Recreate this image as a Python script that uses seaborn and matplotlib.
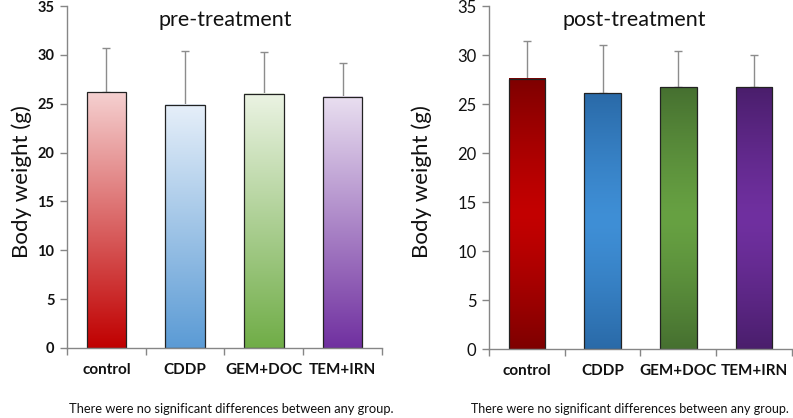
import numpy as np
import pandas as pd
import matplotlib
matplotlib.use("Agg")
import matplotlib.pyplot as plt
import seaborn as sns
from matplotlib.colors import to_rgb

# ---- data ----
groups = ["control", "CDDP", "GEM+DOC", "TEM+IRN"]
pre_mean = [26.2, 24.9, 26.0, 25.7]
pre_sd = [4.5, 5.5, 4.3, 3.5]
post_mean = [27.6, 26.1, 26.7, 26.7]
post_sd = [3.8, 4.9, 3.7, 3.3]
y_ticks = [0, 5, 10, 15, 20, 25, 30, 35]

pre_top = ["#f5d0d0", "#e6eff9", "#ebf3e3", "#e9dff0"]
pre_bottom = ["#c00000", "#5b9bd5", "#70ad47", "#7030a0"]
post_edge = ["#7e0000", "#2a6aa8", "#467030", "#4a1e6c"]
post_mid = ["#c30000", "#3f8fd6", "#67a142", "#7030a0"]

sns.set_theme(style="white")
plt.rcParams["font.family"] = ["Lato", "DejaVu Sans"]

fig = plt.figure(figsize=(7.93, 4.18), dpi=100)
axL = fig.add_axes([0.0845, 0.1675, 0.3972, 0.818])
axR = fig.add_axes([0.6166, 0.165, 0.3821, 0.8206])


def draw(ax, means, sds, width, grad_fn, bold):
    df = pd.DataFrame({"group": groups, "mean": means})
    sns.barplot(data=df, x="group", y="mean", ax=ax, width=width,
                color="white", edgecolor="#222222", linewidth=0.9,
                errorbar=None)
    for i, p in enumerate(ax.patches):
        x0 = p.get_x(); w = p.get_width(); h = p.get_height()
        img = grad_fn(i)
        ax.imshow(img, extent=[x0, x0 + w, 0, h], aspect="auto",
                  origin="upper", zorder=1.5, interpolation="bilinear")
        p.set_facecolor("none")
        p.set_zorder(2)
    ax.errorbar(range(len(groups)), means, yerr=[np.zeros(len(sds)), sds],
                fmt="none", ecolor="#8c8c8c", elinewidth=1.0, capsize=3,
                capthick=1.0, zorder=1.2)
    ax.set_xlim(-0.5, len(groups) - 0.5)
    ax.set_ylim(0, 35)
    ax.set_yticks(y_ticks)
    ax.set_xlabel("")
    ax.set_ylabel("")
    for s in ["top", "right"]:
        ax.spines[s].set_visible(False)
    for s in ["left", "bottom"]:
        ax.spines[s].set_color("#868686")
        ax.spines[s].set_linewidth(1.0)
    ax.set_xticks(np.arange(-0.5, len(groups)), minor=True)
    ax.tick_params(axis="x", which="major", length=0, pad=11)
    ax.tick_params(axis="x", which="minor", length=5, width=1.0,
                   color="#868686", direction="out", bottom=True)
    ax.tick_params(axis="y", length=5, width=1.0, color="#868686",
                   direction="out", left=True, pad=4)
    ax.set_xticks(range(len(groups)))
    ax.set_xticklabels(groups, fontsize=11, fontweight="bold", color="#111111")
    for lab in ax.get_yticklabels():
        lab.set_fontsize(10.5 if bold else 12)
        lab.set_fontweight("bold" if bold else "normal")
        lab.set_color("#111111")


def pre_grad(i):
    t = np.linspace(0, 1, 200)[:, None]
    a = np.array(to_rgb(pre_top[i])); b = np.array(to_rgb(pre_bottom[i]))
    return (a[None, :] * (1 - t) + b[None, :] * t)[:, None, :].repeat(2, axis=1)


def post_grad(i):
    t = np.linspace(0, 1, 200)[:, None]
    s = np.abs(t - 0.5) * 2
    s = s ** 1.3
    a = np.array(to_rgb(post_mid[i])); b = np.array(to_rgb(post_edge[i]))
    return (a[None, :] * (1 - s) + b[None, :] * s)[:, None, :].repeat(2, axis=1)


draw(axL, pre_mean, pre_sd, 0.5, pre_grad, True)
draw(axR, post_mean, post_sd, 0.48, post_grad, False)

fig.text(225 / 793, 1 - 20 / 418, "pre-treatment", ha="center", va="center",
         fontsize=15.5, color="#111111")
fig.text(634 / 793, 1 - 20 / 418, "post-treatment", ha="center", va="center",
         fontsize=15.5, color="#111111")
fig.text(22 / 793, 1 - 182 / 418, "Body weight (g)", rotation=90,
         ha="center", va="center", fontsize=16, color="#111111")
fig.text(422 / 793, 1 - 182 / 418, "Body weight (g)", rotation=90,
         ha="center", va="center", fontsize=16, color="#111111")
fig.text(231 / 793, 1 - 409 / 418,
         "There were no significant differences between any group.",
         ha="center", va="center", fontsize=9.3, color="#111111")
fig.text(789 / 793, 1 - 409 / 418,
         "There were no significant differences between any group.",
         ha="right", va="center", fontsize=9.0, color="#111111")

fig.savefig("out.png", dpi=100)
